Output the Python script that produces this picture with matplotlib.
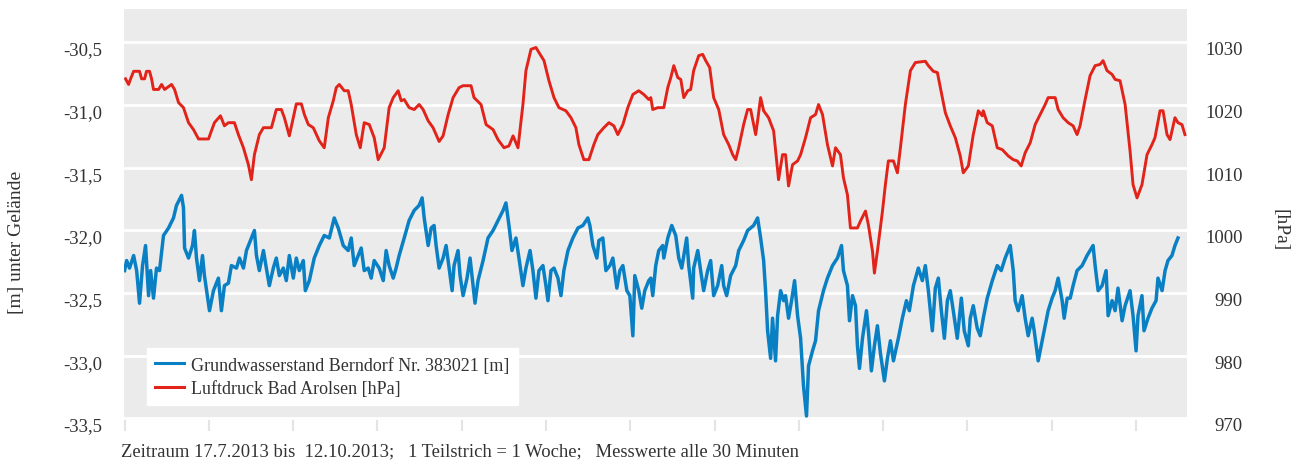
"""Grundwasserstand Berndorf vs. Luftdruck Bad Arolsen, 17.7.2013 - 12.10.2013."""

import matplotlib

matplotlib.use("Agg")
import matplotlib.pyplot as plt
import matplotlib.transforms as mtransforms
import pandas as pd

START = pd.Timestamp("2013-07-17")

# groundwater level [m below ground], days since START
gw_days = [
    0.00, 0.17, 0.41, 0.75, 1.00, 1.24, 1.49, 1.74, 1.99, 2.16, 2.40, 2.65, 2.90, 3.23,
    3.65, 4.06, 4.31, 4.73, 4.89, 4.98, 5.31, 5.64, 5.80, 5.97, 6.22, 6.47, 6.63, 7.05,
    7.38, 7.79, 8.04, 8.29, 8.62, 8.87, 9.29, 9.54, 9.87, 10.12, 10.53, 10.78, 10.95,
    11.19, 11.53, 11.77, 12.02, 12.35, 12.60, 12.85, 13.18, 13.43, 13.68, 14.01, 14.26,
    14.51, 14.84, 15.01, 15.34, 15.75, 16.17, 16.58, 17.00, 17.41, 17.74, 18.16, 18.57,
    18.82, 19.07, 19.40, 19.65, 19.90, 20.23, 20.48, 20.73, 21.14, 21.48, 21.72, 21.97,
    22.31, 22.55, 22.80, 23.22, 23.63, 24.05, 24.46, 24.71, 24.88, 25.21, 25.46, 25.70,
    25.87, 26.12, 26.45, 26.70, 26.95, 27.20, 27.36, 27.69, 27.86, 28.11, 28.44, 28.69,
    28.94, 29.10, 29.35, 29.77, 30.18, 30.60, 31.01, 31.43, 31.67, 31.92, 32.17, 32.50,
    32.75, 33.08, 33.33, 33.67, 33.91, 34.16, 34.41, 34.74, 34.99, 35.16, 35.41, 35.66,
    35.99, 36.24, 36.48, 36.82, 37.23, 37.65, 38.06, 38.47, 38.64, 38.89, 39.22, 39.39,
    39.72, 39.97, 40.30, 40.55, 40.88, 41.13, 41.38, 41.71, 41.96, 42.21, 42.37, 42.70,
    42.95, 43.20, 43.53, 43.70, 43.86, 44.11, 44.36, 44.69, 44.78, 45.11, 45.44, 45.77,
    46.02, 46.27, 46.44, 46.68, 46.85, 47.18, 47.26, 47.60, 47.84, 48.09, 48.42, 48.67,
    48.92, 49.25, 49.59, 49.75, 50.00, 50.33, 50.75, 51.00, 51.41, 51.74, 51.99, 52.24,
    52.57, 52.82, 53.07, 53.23, 53.40, 53.65, 53.81, 54.06, 54.23, 54.48, 54.73, 54.89,
    55.14, 55.39, 55.64, 55.89, 56.14, 56.38, 56.63, 56.80, 57.13, 57.38, 57.63, 58.04,
    58.37, 58.79, 59.20, 59.54, 59.70, 60.03, 60.20, 60.45, 60.70, 60.86, 61.03, 61.28,
    61.61, 61.77, 62.02, 62.27, 62.52, 62.77, 63.10, 63.35, 63.60, 63.85, 64.26, 64.59,
    64.93, 65.17, 65.51, 65.92, 66.25, 66.50, 66.75, 67.08, 67.33, 67.58, 67.83, 68.08,
    68.33, 68.57, 68.82, 69.15, 69.49, 69.73, 70.07, 70.23, 70.48, 70.81, 71.06, 71.31,
    71.64, 72.06, 72.47, 72.80, 73.13, 73.55, 73.80, 73.96, 74.21, 74.54, 74.79, 75.04,
    75.37, 75.54, 75.87, 76.12, 76.45, 76.70, 77.03, 77.28, 77.53, 77.86, 78.03, 78.28,
    78.53, 78.77, 79.10, 79.52, 79.93, 80.18, 80.43, 80.60, 80.85, 81.18, 81.51, 81.68,
    82.01, 82.26, 82.50, 82.84, 83.09, 83.50, 83.75, 84.00, 84.16, 84.49, 84.66, 84.99,
    85.32, 85.66, 85.82, 86.16, 86.41, 86.65, 86.98, 87.23, 87.48,
]
gw_level = [
    -32.32, -32.24, -32.30, -32.20, -32.32, -32.58, -32.28, -32.12, -32.52, -32.32, -32.54,
    -32.30, -32.32, -32.04, -31.98, -31.90, -31.80, -31.72, -31.82, -32.14, -32.22, -32.12,
    -32.00, -32.22, -32.40, -32.20, -32.36, -32.64, -32.48, -32.38, -32.64, -32.44, -32.42,
    -32.28, -32.30, -32.22, -32.30, -32.16, -32.06, -32.00, -32.20, -32.32, -32.16, -32.30,
    -32.44, -32.30, -32.22, -32.36, -32.30, -32.40, -32.20, -32.38, -32.22, -32.32, -32.24,
    -32.48, -32.40, -32.22, -32.12, -32.04, -32.06, -31.90, -31.98, -32.12, -32.16, -32.06,
    -32.28, -32.20, -32.14, -32.32, -32.30, -32.38, -32.24, -32.30, -32.40, -32.16, -32.28,
    -32.38, -32.30, -32.20, -32.06, -31.92, -31.84, -31.80, -31.74, -31.90, -32.12, -31.98,
    -31.96, -32.12, -32.30, -32.22, -32.12, -32.30, -32.48, -32.28, -32.16, -32.36, -32.52,
    -32.38, -32.22, -32.44, -32.58, -32.40, -32.24, -32.06, -32.00, -31.92, -31.84, -31.78,
    -31.96, -32.16, -32.06, -32.22, -32.44, -32.30, -32.16, -32.32, -32.54, -32.32, -32.28,
    -32.44, -32.56, -32.32, -32.30, -32.38, -32.52, -32.32, -32.16, -32.06, -31.98, -31.96,
    -31.90, -31.96, -32.12, -32.22, -32.08, -32.06, -32.32, -32.28, -32.22, -32.46, -32.32,
    -32.28, -32.48, -32.52, -32.84, -32.36, -32.48, -32.62, -32.48, -32.40, -32.38, -32.52,
    -32.28, -32.16, -32.12, -32.22, -32.06, -31.96, -32.04, -32.22, -32.30, -32.20, -32.06,
    -32.28, -32.54, -32.30, -32.16, -32.32, -32.48, -32.32, -32.24, -32.52, -32.44, -32.28,
    -32.44, -32.52, -32.36, -32.28, -32.16, -32.08, -32.00, -31.98, -31.96, -31.90, -32.06,
    -32.24, -32.48, -32.80, -33.02, -32.70, -33.04, -32.68, -32.48, -32.56, -32.52, -32.70,
    -32.56, -32.40, -32.68, -32.86, -33.24, -33.48, -33.08, -32.96, -32.88, -32.64, -32.48,
    -32.38, -32.28, -32.22, -32.12, -32.32, -32.44, -32.72, -32.52, -32.60, -32.92, -33.10,
    -32.86, -32.64, -32.80, -33.12, -32.92, -32.76, -32.98, -33.20, -33.02, -32.88, -33.04,
    -32.86, -32.70, -32.56, -32.64, -32.44, -32.30, -32.40, -32.28, -32.48, -32.80, -32.46,
    -32.38, -32.64, -32.86, -32.56, -32.48, -32.64, -32.86, -32.54, -32.80, -32.92, -32.70,
    -32.60, -32.78, -32.84, -32.70, -32.54, -32.40, -32.28, -32.32, -32.22, -32.12, -32.32,
    -32.56, -32.64, -32.52, -32.70, -32.84, -32.70, -32.80, -33.04, -32.92, -32.76, -32.64,
    -32.54, -32.48, -32.38, -32.56, -32.70, -32.54, -32.54, -32.44, -32.32, -32.28, -32.20,
    -32.16, -32.12, -32.28, -32.48, -32.44, -32.32, -32.68, -32.56, -32.64, -32.46, -32.72,
    -32.60, -32.48, -32.68, -32.96, -32.68, -32.52, -32.80, -32.70, -32.62, -32.56, -32.38,
    -32.48, -32.32, -32.24, -32.20, -32.12, -32.06,
]

# air pressure [hPa], days since START
p_days = [
    0.08, 0.33, 0.50, 0.75, 1.24, 1.41, 1.66, 1.82, 2.07, 2.24, 2.40, 2.82, 3.07, 3.32,
    3.90, 4.15, 4.48, 4.89, 5.31, 5.72, 6.14, 6.97, 7.21, 7.46, 7.96, 8.29, 8.62, 9.12,
    9.45, 9.87, 10.28, 10.53, 10.78, 11.19, 11.53, 12.19, 12.35, 12.60, 13.02, 13.27,
    13.68, 14.01, 14.26, 14.68, 14.93, 15.26, 15.67, 16.17, 16.58, 16.92, 17.33, 17.58,
    17.83, 18.24, 18.57, 18.82, 19.24, 19.57, 19.90, 20.32, 20.73, 21.06, 21.56, 21.97,
    22.31, 22.72, 22.97, 23.22, 23.63, 24.05, 24.46, 24.79, 25.21, 25.62, 26.12, 26.45,
    26.87, 27.28, 27.78, 28.11, 28.77, 29.02, 29.60, 30.02, 30.60, 31.01, 31.51, 31.92,
    32.26, 32.67, 33.08, 33.33, 33.75, 34.16, 34.41, 34.83, 35.24, 35.66, 36.07, 36.65,
    37.07, 37.48, 37.73, 38.14, 38.56, 38.97, 39.30, 39.80, 40.22, 40.63, 40.96, 41.38,
    41.79, 42.21, 42.70, 43.12, 43.53, 43.70, 43.86, 44.28, 44.78, 45.11, 45.36, 45.61,
    45.94, 46.19, 46.44, 46.77, 47.01, 47.26, 47.68, 48.01, 48.26, 48.59, 48.92, 49.34,
    49.75, 50.17, 50.50, 50.75, 51.00, 51.41, 51.74, 51.99, 52.41, 52.57, 52.82, 53.07,
    53.48, 53.90, 54.31, 54.64, 54.89, 55.14, 55.47, 55.89, 56.14, 56.55, 56.97, 57.38,
    57.63, 57.96, 58.37, 58.79, 59.04, 59.45, 59.70, 60.03, 60.28, 60.86, 61.11, 61.53,
    61.77, 62.11, 62.27, 62.52, 62.94, 63.18, 63.43, 63.85, 64.18, 64.43, 64.84, 65.26,
    65.67, 66.50, 66.75, 67.16, 67.50, 67.75, 68.16, 68.57, 68.99, 69.40, 69.65, 70.07,
    70.48, 70.90, 71.23, 71.31, 71.64, 72.06, 72.47, 72.89, 73.38, 73.80, 74.13, 74.46,
    74.79, 75.21, 75.62, 76.04, 76.45, 76.70, 77.28, 77.53, 77.94, 78.36, 78.77, 79.10,
    79.35, 79.77, 80.18, 80.60, 81.01, 81.26, 81.59, 82.01, 82.26, 82.67, 83.09, 83.50,
    83.75, 84.08, 84.49, 84.91, 85.32, 85.57, 85.99, 86.24, 86.57, 86.82, 87.23, 87.48,
    87.81, 88.06,
]
p_hpa = [
    1024.2, 1023.3, 1024.2, 1025.4, 1025.4, 1024.2, 1024.2, 1025.4, 1025.4, 1024.2, 1022.5,
    1022.5, 1023.3, 1022.5, 1023.3, 1022.5, 1020.4, 1019.6, 1017.2, 1016.1, 1014.6, 1014.6,
    1015.9, 1017.2, 1018.3, 1016.7, 1017.2, 1017.2, 1015.3, 1013.2, 1010.5, 1008.1, 1012.1,
    1015.3, 1016.4, 1016.4, 1017.5, 1019.3, 1019.3, 1018.0, 1015.1, 1018.0, 1020.2, 1020.2,
    1018.5, 1016.9, 1016.4, 1014.3, 1013.2, 1018.0, 1020.7, 1022.8, 1023.3, 1022.3, 1022.3,
    1020.1, 1015.3, 1013.2, 1017.2, 1016.9, 1014.8, 1011.3, 1013.2, 1019.6, 1021.2, 1022.3,
    1020.7, 1020.9, 1019.6, 1019.3, 1020.1, 1019.3, 1017.5, 1016.4, 1014.2, 1015.1, 1018.5,
    1021.2, 1022.8, 1023.1, 1023.1, 1021.2, 1020.1, 1016.9, 1016.1, 1014.5, 1013.2, 1013.5,
    1015.1, 1013.2, 1020.1, 1025.5, 1028.9, 1029.2, 1028.4, 1027.1, 1023.9, 1021.2, 1019.6,
    1019.1, 1018.0, 1016.4, 1013.7, 1011.3, 1011.3, 1013.7, 1015.3, 1016.4, 1017.2, 1016.7,
    1015.3, 1016.9, 1019.6, 1021.7, 1022.3, 1021.7, 1020.9, 1021.2, 1019.3, 1019.6, 1019.6,
    1022.8, 1024.4, 1026.3, 1024.4, 1024.1, 1021.2, 1022.3, 1022.5, 1025.5, 1027.9, 1028.1,
    1027.1, 1026.0, 1021.2, 1019.3, 1015.3, 1013.7, 1012.1, 1011.3, 1013.2, 1016.9, 1019.3,
    1019.3, 1015.3, 1017.5, 1021.2, 1019.1, 1018.0, 1015.9, 1008.1, 1012.1, 1012.1, 1007.1,
    1010.5, 1011.1, 1012.1, 1014.8, 1018.0, 1018.5, 1020.1, 1018.5, 1013.7, 1010.3, 1013.2,
    1012.1, 1008.4, 1005.7, 1000.4, 1000.4, 1001.5, 1003.1, 1000.9, 996.7, 993.2, 996.7,
    1003.1, 1007.3, 1011.1, 1011.1, 1009.2, 1013.2, 1020.1, 1025.5, 1026.8, 1027.0, 1026.3,
    1025.4, 1025.2, 1022.8, 1018.8, 1016.7, 1014.8, 1011.9, 1009.2, 1010.3, 1015.3, 1019.1,
    1018.3, 1019.1, 1017.2, 1016.7, 1013.2, 1012.9, 1011.9, 1011.3, 1011.1, 1010.3, 1012.4,
    1014.0, 1016.9, 1018.5, 1020.1, 1021.2, 1021.2, 1019.3, 1018.0, 1017.2, 1016.7, 1015.3,
    1016.7, 1020.9, 1024.7, 1026.3, 1026.5, 1027.1, 1025.5, 1024.9, 1024.1, 1023.9, 1020.1,
    1012.7, 1007.3, 1005.2, 1007.3, 1012.1, 1013.7, 1014.8, 1019.1, 1019.1, 1015.3, 1014.5,
    1018.0, 1017.2, 1016.9, 1015.3,
]

left_ticks = [-30.5, -31.0, -31.5, -32.0, -32.5, -33.0, -33.5]
left_labels = ["-30,5", "-31,0", "-31,5", "-32,0", "-32,5", "-33,0", "-33,5"]
right_ticks = [1030, 1020, 1010, 1000, 990, 980, 970]
right_labels = ["1030", "1020", "1010", "1000", "990", "980", "970"]

BLUE = "#0a80c4"
RED = "#e2231a"
GREY_BG = "#ebebeb"
TEXT = "#333333"

plt.rcParams["font.family"] = ["Liberation Serif", "DejaVu Serif"]

gw_time = START + pd.to_timedelta(gw_days, unit="D")
p_time = START + pd.to_timedelta(p_days, unit="D")

fig = plt.figure(figsize=(13.06, 4.64), dpi=100)
ax = fig.add_axes([124 / 1306, 1 - 421 / 464, 1063 / 1306, 411 / 464])
ax.set_facecolor(GREY_BG)
for s in ax.spines.values():
    s.set_visible(False)

ax.plot(gw_time, gw_level, color=BLUE, linewidth=2.5, label="Grundwasserstand Berndorf Nr. 383021 [m]")
ax.set_ylim(-33.512, -30.233)
ax.set_xlim(START - pd.Timedelta(days=0.05), START + pd.Timedelta(days=88.23))
ax.set_yticks(left_ticks)
ax.set_yticklabels(left_labels)
ax.grid(axis="y", color="white", linewidth=2.0)
ax.set_axisbelow(True)
ax.tick_params(axis="y", length=0, pad=16, labelsize=13.5, labelcolor=TEXT)

week_ticks = [START + pd.Timedelta(days=7 * i) for i in range(13)]
ax.set_xticks(week_ticks)
ax.tick_params(axis="x", length=8, width=1.5, color="#e4e4e4", labelbottom=False)

ax2 = ax.twinx()
ax2.patch.set_visible(False)
for s in ax2.spines.values():
    s.set_visible(False)
ax2.plot(p_time, p_hpa, color=RED, linewidth=2.1, label="Luftdruck Bad Arolsen [hPa]")
ax2.set_ylim(969.76, 1035.34)
ax2.set_yticks(right_ticks)
ax2.set_yticklabels(right_labels)
ax2.tick_params(axis="y", length=0, pad=40, labelsize=13.5, labelcolor=TEXT)
for lab in ax2.get_yticklabels():
    lab.set_horizontalalignment("right")

# labels sit a few pixels below their grid lines
shift = mtransforms.ScaledTranslation(0, -5.5 / 100, fig.dpi_scale_trans)
for lab in ax.get_yticklabels() + ax2.get_yticklabels():
    lab.set_transform(lab.get_transform() + shift)

h1, l1 = ax.get_legend_handles_labels()
h2, l2 = ax2.get_legend_handles_labels()
leg = ax2.legend(
    h1 + h2, l1 + l2,
    loc="lower left", bbox_to_anchor=(0.0216, 0.0365), borderaxespad=0,
    fontsize=13, frameon=True, fancybox=False, framealpha=1,
    edgecolor="white", facecolor="white", handlelength=1.6,
    labelspacing=0.35, borderpad=0.45, handletextpad=0.4,
)
for t in leg.get_texts():
    t.set_color(TEXT)
for line in leg.get_lines():
    line.set_linewidth(2.2)

fig.text(17 / 1306, 1 - 242 / 464, "[m] unter Gelände", rotation=90,
         ha="center", va="center", fontsize=14, color=TEXT)
fig.text(1280 / 1306, 1 - 230 / 464, "[hPa]", rotation=270,
         ha="center", va="center", fontsize=14, color=TEXT)
fig.text(121 / 1306, 1 - 456 / 464,
         "Zeitraum 17.7.2013 bis  12.10.2013;   1 Teilstrich = 1 Woche;   Messwerte alle 30 Minuten",
         ha="left", va="baseline", fontsize=13.4, color=TEXT)

fig.savefig("out.png", dpi=100)
